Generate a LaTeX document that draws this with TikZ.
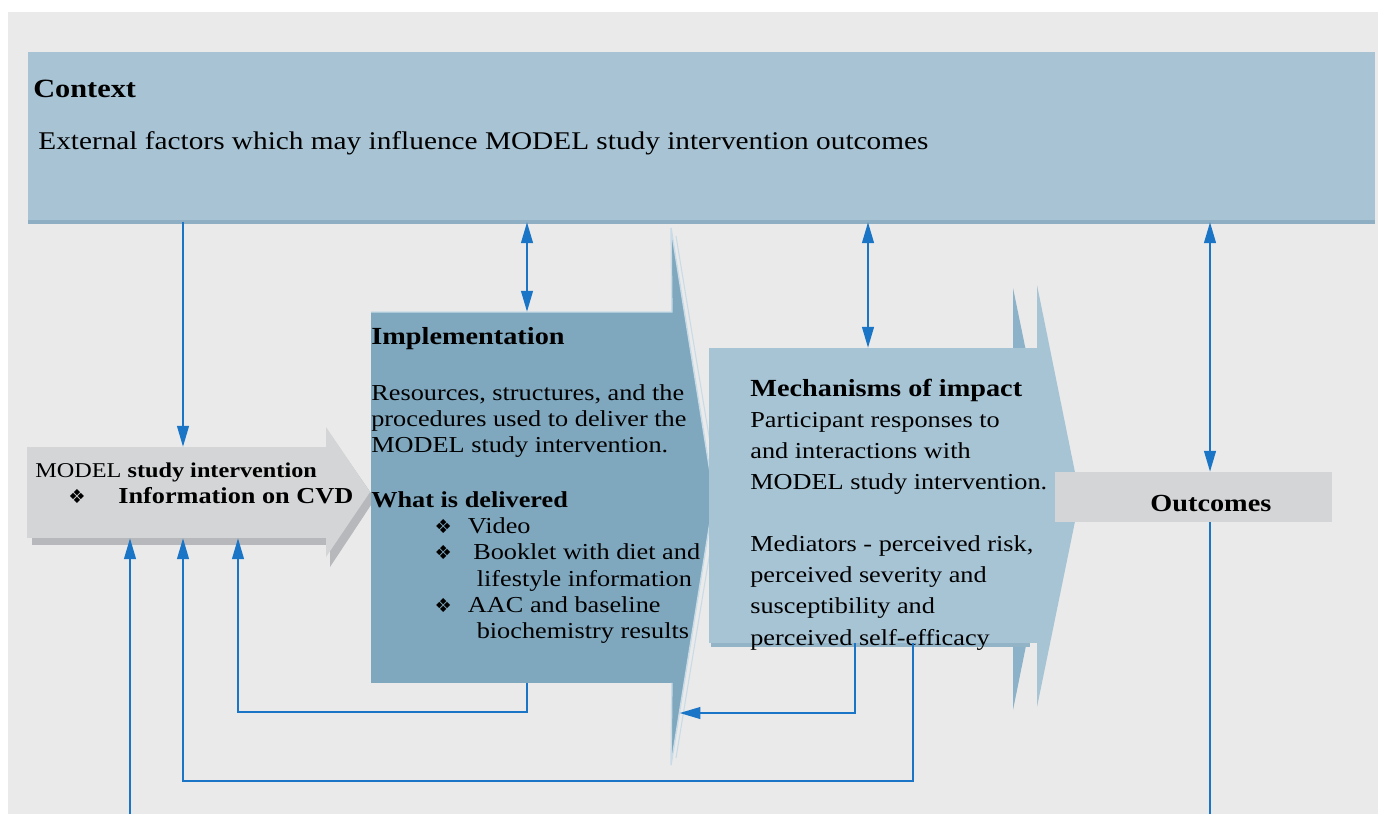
\documentclass[tikz,border=0pt]{standalone}
\usepackage{fontspec}
\setmainfont[FakeStretch=1.15]{Liberation Serif}
\newfontfamily\symfont{DejaVu Sans}
\usetikzlibrary{arrows.meta,positioning}

\definecolor{bggray}{HTML}{EAEAEA}
\definecolor{ctxblue}{HTML}{A7C3D4}
\definecolor{ctxedge}{HTML}{8DAEC3}
\definecolor{intgray}{HTML}{D4D5D7}
\definecolor{intshade}{HTML}{B7B8BB}
\definecolor{implblue}{HTML}{7FA8BF}
\definecolor{implrim}{HTML}{C8DBE6}
\definecolor{mechblue}{HTML}{A7C4D5}
\definecolor{mechdark}{HTML}{8BB2C9}
\definecolor{mechshade}{HTML}{93B3C7}
\definecolor{outgray}{HTML}{D4D5D7}
\definecolor{linkblue}{HTML}{1B75C7}

\newcommand{\bul}{{\symfont\fontsize{11}{11}\selectfont ❖}}
\newcommand{\itm}{\hspace*{36pt}\makebox[19pt][l]{\bul}}

\begin{document}
\begin{tikzpicture}[x=0.02cm,y=-0.02cm]

\tikzstyle{panel}=[rectangle,inner sep=0pt,outer sep=0pt,anchor=north west]
\tikzstyle{txt}=[inner sep=0pt,anchor=base west,align=left]
\tikzstyle{link}=[draw=linkblue,line width=1.6pt,>={Triangle[length=12pt,width=6.5pt]}]

\useasboundingbox (0,0) rectangle (1378,814);
\fill[white] (0,0) rectangle (1378,814);
\fill[bggray] (8,12) rectangle (1378,814);

% context
\node[panel,fill=ctxblue,minimum width=26.94cm,minimum height=3.4cm] (ctx) at (28,52) {};
\draw[ctxedge,line width=2pt] (ctx.south west) -- (ctx.south east);
\node[txt,font=\fontsize{15}{18}\selectfont\bfseries] (ctxhead) at (33,98) {Context};
\node[txt,font=\fontsize{14.5}{17}\selectfont] (ctxtext) at (38,150)
  {External factors which may influence MODEL study intervention outcomes};

% intervention arrow
\fill[intshade] (32,453) rectangle (330,545);
\fill[intshade] (330,434) -- (375,499) -- (330,567) -- cycle;
\node[panel,fill=intgray,minimum width=6cm,minimum height=1.82cm] (interv) at (27,447) {};
\fill[intgray] (326,427) -- (370,492) -- (326,557) -- cycle;
\node[txt,font=\fontsize{12}{14}\selectfont] (intname) at (35,477) {MODEL \textbf{study intervention}};
\node[txt] (intbul) at (68,503) {\bul};
\node[txt,font=\fontsize{13}{15}\selectfont\bfseries] (intinfo) at (118,503) {Information on CVD};

% implementation arrow
\node[panel,fill=implblue,minimum width=6.02cm,minimum height=7.42cm] (impl) at (371,312) {};
\fill[implblue] (671,228) coordinate (impltop) -- (714,497) coordinate (impltip)
  -- (671,765) coordinate (implbot) -- cycle;
\draw[implrim,line width=0.8pt] (impl.south east) -- (implbot) -- (impltip) -- (impltop)
  -- (impl.north east) -- (impl.north west);
\draw[implrim,line width=0.6pt] (676,236) -- (719,497) -- (676,758);
\path (impltip) -- (implbot) coordinate[pos=0.806] (impledge);
% base of a multi-line node is its last line
\node[txt,font=\fontsize{13}{14.8}\selectfont] (impltext) at (371,638)
  {\textbf{\fontsize{14}{14.8}\selectfont Implementation}\\[17pt]
   Resources, structures, and the\\
   procedures used to deliver the\\
   MODEL study intervention.\\[17pt]
   \textbf{What is delivered}\\
   \itm Video\\
   \itm\hspace{3pt}Booklet with diet and\\
   \hspace*{60pt}lifestyle information\\
   \itm AAC and baseline\\
   \hspace*{60pt}biochemistry results};

% mechanisms arrow
\fill[mechdark] (1013,288) -- (1056,497) -- (1013,710) -- cycle;
\fill[mechshade] (711,351) rectangle (1030,647);
\node[panel,fill=mechblue,minimum width=6.58cm,minimum height=5.9cm] (mech) at (709,348) {};
\fill[mechblue] (1037,285) -- (1080,497) -- (1037,707) -- cycle;
\node[txt,font=\fontsize{13}{17.7}\selectfont] (mechtext) at (750,645)
  {\textbf{\fontsize{14}{17.7}\selectfont Mechanisms of impact}\\
   Participant responses to\\
   and interactions with\\
   MODEL study intervention.\\[17.7pt]
   Mediators - perceived risk,\\
   perceived severity and\\
   susceptibility and\\
   perceived self-efficacy};

% outcomes
\node[rectangle,inner sep=0pt,outer sep=0pt,fill=outgray,minimum width=5.54cm,minimum height=1cm] (outc) at (1193.5,497) {};
\node[txt,font=\fontsize{14}{16}\selectfont\bfseries] (outtext) at (1150,511) {Outcomes};

% connectors
\coordinate (colB) at (183,0);
\coordinate (colC) at (238,0);
\coordinate (colD) at (527,0);
\coordinate (colE) at (855,0);
\coordinate (colG) at (868,0);
\coordinate (colF) at (913,0);
\coordinate (colH) at (1210,0);
\coordinate (inend) at (130,814);
\coordinate (outend) at (1210,814);

\draw[link,->] (ctx.south -| colB) -- (interv.north -| colB);
\draw[link,<->] (ctx.south -| colD) -- (impl.north -| colD);
\draw[link,<->] (ctx.south -| colG) -- (mech.north -| colG);
\draw[link,<->] (ctx.south -| colH) -- (outc.north -| colH);
\draw[link] (outc.south -| outend) -- (outend);
\draw[link,->] (inend) -- (interv.south -| inend);
\draw[link,->] (impl.south -| colD) -- ++(0,29) -| (interv.south -| colC);
\draw[link,->] (mech.south -| colF) -- ++(0,138) -| (interv.south -| colB);
\draw[link,->] (mech.south -| colE) |- (impledge);

\end{tikzpicture}
\end{document}
